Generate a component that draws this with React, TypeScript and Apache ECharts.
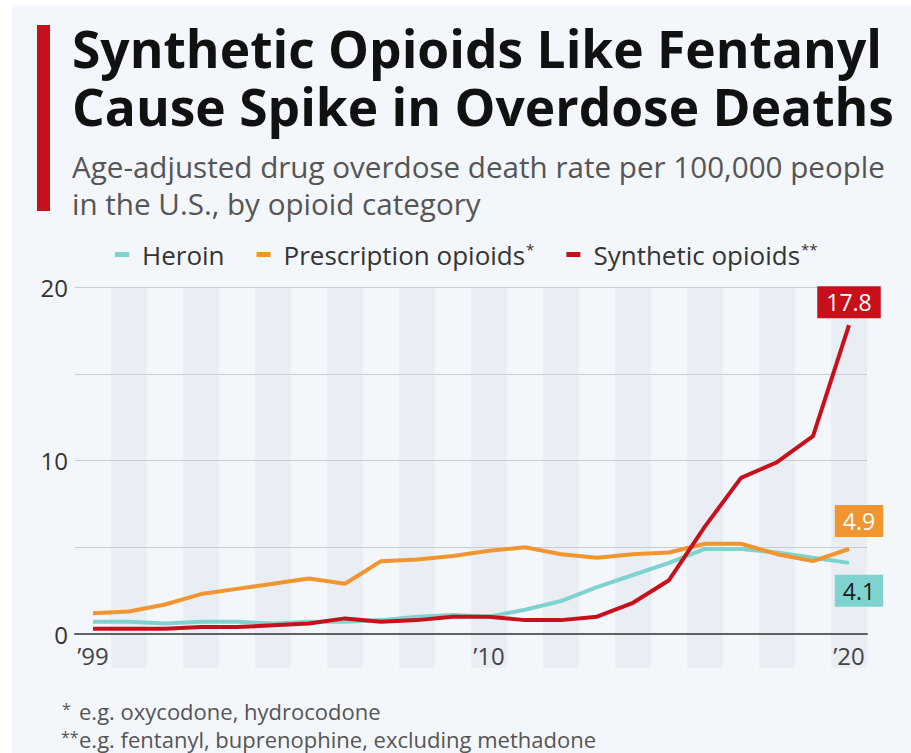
import React, { useEffect, useRef } from "react";
import * as echarts from "echarts";

const years = ["1999","2000","2001","2002","2003","2004","2005","2006","2007","2008","2009","2010","2011","2012","2013","2014","2015","2016","2017","2018","2019","2020"];
const heroin = [0.7,0.7,0.6,0.7,0.7,0.6,0.7,0.7,0.8,1.0,1.1,1.0,1.4,1.9,2.7,3.4,4.1,4.9,4.9,4.7,4.4,4.1];
const prescription = [1.2,1.3,1.7,2.3,2.6,2.9,3.2,2.9,4.2,4.3,4.5,4.8,5.0,4.6,4.4,4.6,4.7,5.2,5.2,4.6,4.2,4.9];
const synthetic = [0.3,0.3,0.3,0.4,0.4,0.5,0.6,0.9,0.7,0.8,1.0,1.0,0.8,0.8,1.0,1.8,3.1,6.2,9.0,9.9,11.4,17.8];
const labelYears = ["1999", "2010", "2020"];
const yLabelValues = [0, 10, 20];

const OX = 12;
const OY = 5;
const W = 899;
const H = 748;
const FONT = '"Open Sans", "Noto Sans", sans-serif';

const COL_HEROIN = "#7fd3cf";
const COL_PRESC = "#f0952f";
const COL_SYN = "#c8101c";

export default function App() {
  const ref = useRef<HTMLDivElement>(null);
  useEffect(() => {
    const chart = echarts.init(ref.current!, null, { renderer: "svg" });
    const withLast = (arr: number[], label: any) =>
      arr.map((v, i) => (i === arr.length - 1 ? { value: v, label: { show: true, ...label } } : v));
    const baseLabel = {
      fontFamily: FONT,
      fontSize: 23,
      lineHeight: 26,
      formatter: (p: any) => String(p.value),
    };
    const lineSeries = (name: string, data: any[], color: string) => ({
      name,
      type: "line",
      data,
      xAxisIndex: 0,
      yAxisIndex: 0,
      showSymbol: true,
      symbol: "circle",
      symbolSize: 0,
      itemStyle: { color },
      lineStyle: { color, width: 4 },
      z: 5,
      silent: true,
    });
    const txt = (text: string, x: number, y: number, font: string, fill: string, lineHeight?: number) => ({
      type: "text",
      x: x - OX,
      y: y - OY,
      style: { text, font, fill, lineHeight, align: "left", verticalAlign: "middle", textAlign: "left", textVerticalAlign: "middle" },
    });
    chart.setOption({
      animation: false,
      backgroundColor: "#f3f6fa",
      textStyle: { fontFamily: FONT },
      grid: [
        { left: 63, right: 44, top: 282, bottom: 119 },
        { left: 63, right: 44, top: 282, bottom: 85 },
      ],
      xAxis: [
        {
          type: "category",
          gridIndex: 0,
          data: years,
          boundaryGap: true,
          z: 3,
          axisLine: { show: true, lineStyle: { color: "#5e6368", width: 2 } },
          axisTick: { show: false },
          axisLabel: {
            interval: (i: number, v: string) => labelYears.includes(v),
            formatter: (v: string) => "\u2019" + v.slice(2),
            color: "#444",
            fontSize: 24,
            fontFamily: FONT,
            margin: 9,
          },
          splitLine: { show: false },
        },
        {
          type: "category",
          gridIndex: 1,
          data: years,
          boundaryGap: true,
          z: 0,
          axisLine: { show: false },
          axisTick: { show: false },
          axisLabel: { show: false },
          splitLine: { show: false },
          splitArea: {
            show: true,
            interval: 0,
            areaStyle: { color: ["rgba(0,0,0,0)", "#e9eef5"] },
          },
        },
      ],
      yAxis: [
        {
          type: "value",
          gridIndex: 0,
          min: 0,
          max: 20,
          interval: 5,
          z: 2,
          axisLine: { show: false },
          axisTick: { show: false },
          axisLabel: {
            formatter: (v: number) => (yLabelValues.includes(v) ? String(v) : ""),
            color: "#333",
            fontSize: 24,
            fontFamily: FONT,
            margin: 7,
          },
          splitLine: { show: true, lineStyle: { color: "#c9cdd3", width: 1 } },
        },
        {
          type: "value",
          gridIndex: 1,
          min: 0,
          max: 1,
          show: false,
          splitLine: { show: false },
        },
      ],
      legend: {
        left: 98,
        top: 231,
        itemWidth: 14,
        itemHeight: 5,
        itemGap: 32,
        icon: "rect",
        data: ["Heroin", "Prescription opioids", "Synthetic opioids"],
        formatter: (name: string) =>
          name === "Prescription opioids"
            ? "{n|Prescription opioids}{s|*}"
            : name === "Synthetic opioids"
            ? "{n|Synthetic opioids}{s|**}"
            : "{n|" + name + "}",
        textStyle: {
          color: "#333",
          fontFamily: FONT,
          fontSize: 26,
          rich: {
            n: { fontSize: 26, color: "#333", fontFamily: FONT, padding: [0, 0, 0, 8] },
            s: { fontSize: 15, color: "#333", fontFamily: FONT, verticalAlign: "top", padding: [0, 0, 12, 1] },
          },
        },
      },
      graphic: [
        { type: "rect", left: 37 - OX, top: 25 - OY, shape: { width: 13, height: 186 }, style: { fill: COL_SYN } },
        txt("Synthetic Opioids Like Fentanyl\nCause Spike in Overdose Deaths", 72, 77, `bold 51.5px ${FONT}`, "#111", 58),
        txt("Age-adjusted drug overdose death rate per 100,000 people\nin the U.S., by opioid category", 72, 184.5, `29.6px ${FONT}`, "#555", 37),
        txt("*", 62, 709, `16px ${FONT}`, "#555"),
        txt("e.g. oxycodone, hydrocodone", 79, 711, `22px ${FONT}`, "#555"),
        txt("**", 61, 737, `16px ${FONT}`, "#555"),
        txt("e.g. fentanyl, buprenophine, excluding methadone", 79, 739, `22px ${FONT}`, "#555"),
      ],
      series: [
        lineSeries("Heroin", withLast(heroin, { ...baseLabel, position: "bottom", distance: 12, offset: [10, 0], color: "#1a1a1a", backgroundColor: COL_HEROIN, padding: [3, 8, 3, 8] }), COL_HEROIN),
        lineSeries("Prescription opioids", withLast(prescription, { ...baseLabel, position: "top", distance: 12, offset: [10, 0], color: "#fff", backgroundColor: COL_PRESC, padding: [3, 8, 3, 8] }), COL_PRESC),
        lineSeries("Synthetic opioids", withLast(synthetic, { ...baseLabel, position: "top", distance: 7, offset: [0, 0], color: "#fff", backgroundColor: COL_SYN, padding: [3, 9, 3, 9] }), COL_SYN),
        {
          type: "line",
          xAxisIndex: 1,
          yAxisIndex: 1,
          data: [],
          silent: true,
        },
      ],
    });
    return () => chart.dispose();
  }, []);
  return (
    <div
      ref={ref}
      style={{ position: "absolute", left: OX, top: OY, width: W, height: H, background: "#f3f6fa" }}
    />
  );
}
